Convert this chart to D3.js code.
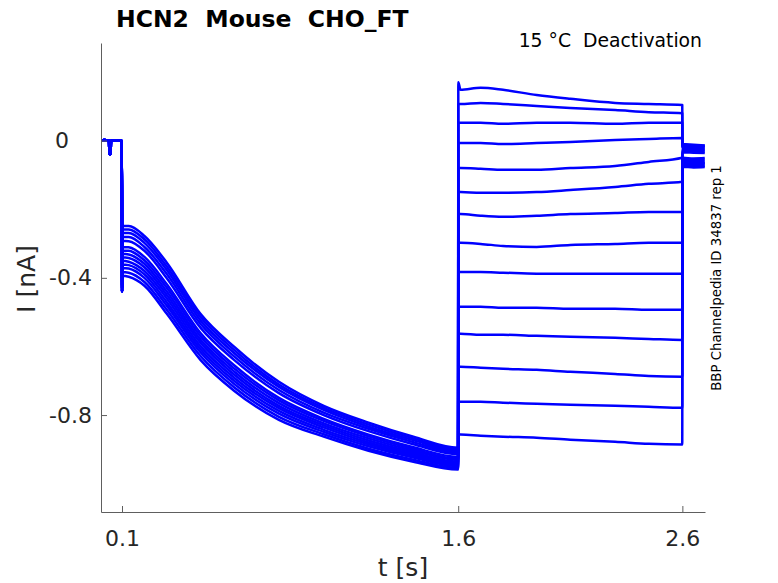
<!DOCTYPE html>
<html>
<head>
<meta charset="utf-8">
<script src="https://cdn.jsdelivr.net/npm/d3@7"></script>
<style>
  body { margin: 0; background: #fff; }
  text { font-family: "DejaVu Sans", sans-serif; white-space: pre; }
</style>
</head>
<body>
<div id="chart"></div>
<script>
// Tick values and labels
const xTicks = [0.1, 1.6, 2.6];
const xTickLabels = ["0.1", "1.6", "2.6"];
const yTicks = [0, -0.4, -0.8];
const yTickLabels = ["0", "-0.4", "-0.8"];

// Holding segment before the step (shared by all sweeps)
const holdT = [0.006, 0.02, 0.042, 0.044, 0.049, 0.051, 0.07, 0.0995];
const holdI = [0.0, 0.002, 0.0, -0.04, -0.04, 0.0, 0.001, 0.0];

// Activation step 0.1 s .. 1.6 s, one row per sweep (first value = capacitive spike)
const actT = [0.1003, 0.1008, 0.13, 0.2, 0.3, 0.45, 0.6, 0.8, 1.0, 1.2, 1.4, 1.5995];
const actI = [
  [-0.44, -0.249, -0.249, -0.278, -0.356, -0.505, -0.601, -0.703, -0.773, -0.822, -0.863, -0.895],
  [-0.43, -0.259, -0.259, -0.288, -0.367, -0.514, -0.610, -0.711, -0.779, -0.828, -0.868, -0.900],
  [-0.43, -0.269, -0.269, -0.298, -0.377, -0.524, -0.619, -0.718, -0.785, -0.834, -0.873, -0.904],
  [-0.42, -0.281, -0.281, -0.310, -0.389, -0.534, -0.629, -0.727, -0.793, -0.840, -0.879, -0.909],
  [-0.42, -0.292, -0.293, -0.321, -0.401, -0.545, -0.639, -0.736, -0.800, -0.847, -0.885, -0.914],
  [-0.43, -0.310, -0.311, -0.339, -0.419, -0.561, -0.655, -0.750, -0.811, -0.857, -0.894, -0.922],
  [-0.43, -0.320, -0.321, -0.349, -0.429, -0.570, -0.664, -0.757, -0.817, -0.862, -0.899, -0.927],
  [-0.44, -0.330, -0.332, -0.359, -0.440, -0.580, -0.673, -0.765, -0.824, -0.868, -0.904, -0.931],
  [-0.44, -0.340, -0.342, -0.369, -0.450, -0.589, -0.682, -0.773, -0.830, -0.874, -0.909, -0.936],
  [-0.44, -0.350, -0.353, -0.380, -0.460, -0.599, -0.691, -0.780, -0.836, -0.880, -0.914, -0.940],
  [-0.44, -0.361, -0.363, -0.390, -0.471, -0.608, -0.700, -0.788, -0.843, -0.885, -0.919, -0.944],
  [-0.44, -0.371, -0.373, -0.400, -0.481, -0.617, -0.709, -0.796, -0.849, -0.891, -0.924, -0.949],
  [-0.44, -0.383, -0.385, -0.412, -0.493, -0.628, -0.719, -0.805, -0.856, -0.898, -0.930, -0.954],
  [-0.44, -0.394, -0.397, -0.423, -0.505, -0.639, -0.729, -0.814, -0.863, -0.904, -0.936, -0.959]
];

// Deactivation (tail) step 1.6 s .. 2.6 s
const tailT = [1.6005, 1.61, 1.7, 1.8, 1.95, 2.1, 2.3, 2.45, 2.5995];
const tailI = [
  [0.170, 0.148, 0.154, 0.148, 0.133, 0.122, 0.110, 0.107, 0.104],
  [0.107, 0.107, 0.110, 0.107, 0.101, 0.095, 0.089, 0.083, 0.080],
  [0.052, 0.052, 0.052, 0.049, 0.052, 0.052, 0.049, 0.052, 0.052],
  [-0.007, -0.007, -0.007, -0.010, -0.007, -0.004, 0.002, 0.005, 0.008],
  [-0.080, -0.080, -0.082, -0.085, -0.085, -0.080, -0.074, -0.062, -0.050],
  [-0.150, -0.150, -0.152, -0.152, -0.150, -0.144, -0.135, -0.126, -0.120],
  [-0.214, -0.214, -0.219, -0.222, -0.219, -0.214, -0.211, -0.208, -0.208],
  [-0.298, -0.298, -0.301, -0.307, -0.310, -0.304, -0.301, -0.298, -0.298],
  [-0.383, -0.383, -0.383, -0.385, -0.388, -0.388, -0.388, -0.388, -0.388],
  [-0.484, -0.484, -0.484, -0.487, -0.487, -0.490, -0.490, -0.493, -0.493],
  [-0.563, -0.563, -0.566, -0.566, -0.569, -0.572, -0.575, -0.578, -0.581],
  [-0.659, -0.659, -0.662, -0.665, -0.668, -0.674, -0.680, -0.686, -0.688],
  [-0.761, -0.761, -0.761, -0.764, -0.767, -0.770, -0.773, -0.776, -0.779],
  [-0.857, -0.857, -0.860, -0.863, -0.866, -0.872, -0.878, -0.884, -0.886]
];

// Back to holding after 2.6 s
const postT = [2.6005, 2.65, 2.7];
const postI = [
  [-0.010, -0.012, -0.014], [-0.014, -0.016, -0.015], [-0.018, -0.020, -0.019],
  [-0.022, -0.024, -0.023], [-0.026, -0.028, -0.027], [-0.030, -0.031, -0.032],
  [-0.034, -0.035, -0.036], [-0.050, -0.052, -0.051], [-0.055, -0.057, -0.056],
  [-0.060, -0.061, -0.062], [-0.064, -0.066, -0.065], [-0.068, -0.070, -0.069],
  [-0.072, -0.074, -0.073], [-0.076, -0.078, -0.077]
];

const width = 778;
const height = 583;
const margin = { top: 43, right: 73, bottom: 71, left: 101 };

const svg = d3.select("#chart").append("svg")
  .attr("width", width)
  .attr("height", height);

const x = d3.scaleLinear()
  .domain([0.0063, 2.701])
  .range([margin.left, width - margin.right]);

const y = d3.scaleLinear()
  .domain([-1.0826, 0.2846])
  .range([height - margin.bottom, margin.top]);

// Build each sweep from its segments
const sweeps = actI.map((row, i) => {
  const pts = [];
  holdT.forEach((t, j) => pts.push([t, holdI[j]]));
  actT.forEach((t, j) => pts.push([t, row[j]]));
  tailT.forEach((t, j) => pts.push([t, tailI[i][j]]));
  postT.forEach((t, j) => pts.push([t, postI[i][j]]));
  return pts;
});

svg.append("clipPath").attr("id", "clip")
  .append("rect")
  .attr("x", margin.left)
  .attr("y", margin.top)
  .attr("width", width - margin.left - margin.right)
  .attr("height", height - margin.top - margin.bottom);

const line = d3.line()
  .x(d => x(d[0]))
  .y(d => y(d[1]))
  .curve(d3.curveMonotoneX);

svg.append("g")
  .attr("clip-path", "url(#clip)")
  .selectAll("path")
  .data(sweeps)
  .join("path")
  .attr("d", line)
  .attr("fill", "none")
  .attr("stroke", "#0000ff")
  .attr("stroke-width", 2.5)
  .attr("stroke-linejoin", "round");

// Axes (MATLAB style: ticks inside, no box)
const axisColor = "#5e5e5e";
const labelColor = "#262626";

const xAxis = svg.append("g")
  .attr("transform", `translate(0,${height - margin.bottom})`)
  .call(d3.axisBottom(x)
    .tickValues(xTicks)
    .tickFormat((d, i) => xTickLabels[i])
    .tickSizeInner(-6)
    .tickSizeOuter(0)
    .tickPadding(14));

const yAxis = svg.append("g")
  .attr("transform", `translate(${margin.left},0)`)
  .call(d3.axisLeft(y)
    .tickValues(yTicks)
    .tickFormat((d, i) => yTickLabels[i])
    .tickSizeInner(-6)
    .tickSizeOuter(0)
    .tickPadding(9));

[xAxis, yAxis].forEach(g => {
  g.select(".domain").attr("stroke", axisColor);
  g.selectAll(".tick line").attr("stroke", axisColor);
  g.selectAll(".tick text")
    .attr("fill", labelColor)
    .style("font-size", "22px")
    .style("font-family", "DejaVu Sans, sans-serif");
});

// the "0" label sits further left in the original
yAxis.selectAll(".tick text").filter(d => d === 0).attr("dx", "-23px");
xAxis.selectAll(".tick text").attr("dy", "0.9em");

// Axis labels
svg.append("text")
  .attr("x", 403)
  .attr("y", 576)
  .attr("text-anchor", "middle")
  .attr("fill", labelColor)
  .style("font-size", "25px")
  .text("t [s]");

svg.append("text")
  .attr("transform", "translate(35,279) rotate(-90)")
  .attr("text-anchor", "middle")
  .attr("fill", labelColor)
  .style("font-size", "25px")
  .text("I [nA]");

// Title and annotations
svg.append("text")
  .attr("x", 116)
  .attr("y", 27)
  .attr("fill", "#000")
  .style("font-size", "23.5px")
  .style("font-weight", "bold")
  .text("HCN2  Mouse  CHO_FT");

svg.append("text")
  .attr("x", 702)
  .attr("y", 47)
  .attr("text-anchor", "end")
  .attr("fill", "#000")
  .style("font-size", "18.8px")
  .text("15 °C  Deactivation");

svg.append("text")
  .attr("transform", "translate(721,278) rotate(-90)")
  .attr("text-anchor", "middle")
  .attr("fill", "#000")
  .style("font-size", "13.3px")
  .text("BBP Channelpedia ID 34837 rep 1");
</script>
</body>
</html>
